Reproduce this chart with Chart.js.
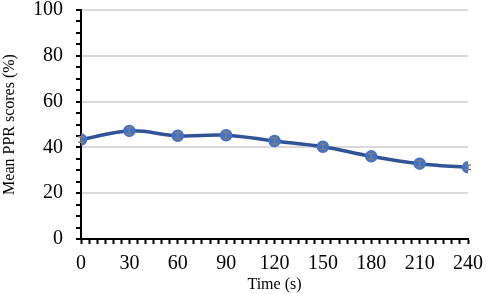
<!DOCTYPE html>
<html>
<head>
<meta charset="utf-8">
<script src="https://cdn.jsdelivr.net/npm/chart.js@4"></script>
<style>
  html, body { margin: 0; padding: 0; background: #fff; }
  #wrap { width: 486px; height: 294px; position: relative; }
</style>
</head>
<body>
<div id="wrap"><canvas id="c"></canvas></div>
<script>
// time points (s)
const times = [0, 30, 60, 90, 120, 150, 180, 210, 240];
// mean PPR scores (%)
const scores = [43.4, 47.2, 45.1, 45.3, 42.8, 40.3, 36.1, 32.9, 31.3];
// error bar half-heights
const errors = [1.2, 1.5, 1.4, 1.4, 1.3, 1.2, 1.2, 1.3, 1.0];

const fontFamily = '"Liberation Serif", "Times New Roman", serif';

// small error bars drawn at each point
const errorBars = {
    id: 'errorBars',
    afterDatasetsDraw(chart) {
        const ctx = chart.ctx;
        const xs = chart.scales.x;
        const ys = chart.scales.y;
        ctx.save();
        ctx.strokeStyle = '#7f7f7f';
        ctx.lineWidth = 1.5;
        times.forEach((t, i) => {
            const x = xs.getPixelForValue(t);
            const yTop = ys.getPixelForValue(scores[i] + errors[i]);
            const yBot = ys.getPixelForValue(scores[i] - errors[i]);
            ctx.beginPath();
            ctx.moveTo(x, yTop); ctx.lineTo(x, yBot);
            ctx.moveTo(x - 3, yTop); ctx.lineTo(x + 3, yTop);
            ctx.moveTo(x - 3, yBot); ctx.lineTo(x + 3, yBot);
            ctx.stroke();
        });
        ctx.restore();
    }
};

const chart = new Chart(document.getElementById('c'), {
    type: 'line',
    data: {
        datasets: [{
            label: 'Mean PPR scores',
            data: times.map((t, i) => ({ x: t, y: scores[i] })),
            borderColor: '#2f5597',
            borderWidth: 3.5,
            backgroundColor: '#4472c4',
            pointBackgroundColor: '#4472c4',
            pointBorderColor: '#4472c4',
            pointRadius: 4.5,
            tension: 0.4,
            fill: false
        }]
    },
    options: {
        responsive: true,
        maintainAspectRatio: false,
        animation: false,
        layout: { padding: { top: 10, right: 18, left: 0, bottom: 0 } },
        plugins: {
            legend: { display: false },
            tooltip: { enabled: false }
        },
        scales: {
            x: {
                type: 'linear',
                min: 0,
                max: 240,
                afterBuildTicks: s => {
                    const t = [];
                    for (let v = 0; v <= 240; v += 5) t.push({ value: v });
                    s.ticks = t;
                },
                afterFit: s => { s.height = 55; s.paddingLeft = 0; s.paddingRight = 0; },
                border: { display: true, color: '#000', width: 2 },
                grid: {
                    drawOnChartArea: false,
                    drawTicks: true,
                    tickLength: 5,
                    tickColor: '#000',
                    tickWidth: 2
                },
                ticks: {
                    autoSkip: false,
                    maxRotation: 0,
                    padding: 8,
                    color: '#000',
                    font: { family: fontFamily, size: 20 },
                    callback: v => (v % 30 === 0 ? v : '')
                },
                title: {
                    display: true,
                    text: 'Time (s)',
                    color: '#000',
                    font: { family: fontFamily, size: 16 },
                    padding: { top: 0, bottom: 0 }
                }
            },
            y: {
                min: 0,
                max: 100,
                afterBuildTicks: s => {
                    const t = [];
                    for (let v = 0; v <= 100; v += 5) t.push({ value: v });
                    s.ticks = t;
                },
                afterFit: s => { s.width = 81; s.paddingTop = 0; s.paddingBottom = 0; },
                border: { display: true, color: '#000', width: 2 },
                grid: {
                    drawTicks: true,
                    tickLength: 5,
                    tickWidth: 2,
                    tickColor: '#000',
                    lineWidth: 2,
                    color: c => (c.tick && c.tick.value % 20 === 0 && c.tick.value > 0 ? '#d9d9d9' : 'rgba(0,0,0,0)')
                },
                ticks: {
                    autoSkip: false,
                    padding: 13,
                    color: '#000',
                    font: { family: fontFamily, size: 20 },
                    callback: v => (v % 20 === 0 ? v : '')
                },
                title: {
                    display: true,
                    text: 'Mean PPR scores (%)',
                    color: '#000',
                    font: { family: fontFamily, size: 16 },
                    padding: { top: 0, bottom: 4 }
                }
            }
        }
    },
    plugins: [errorBars]
});
</script>
</body>
</html>
